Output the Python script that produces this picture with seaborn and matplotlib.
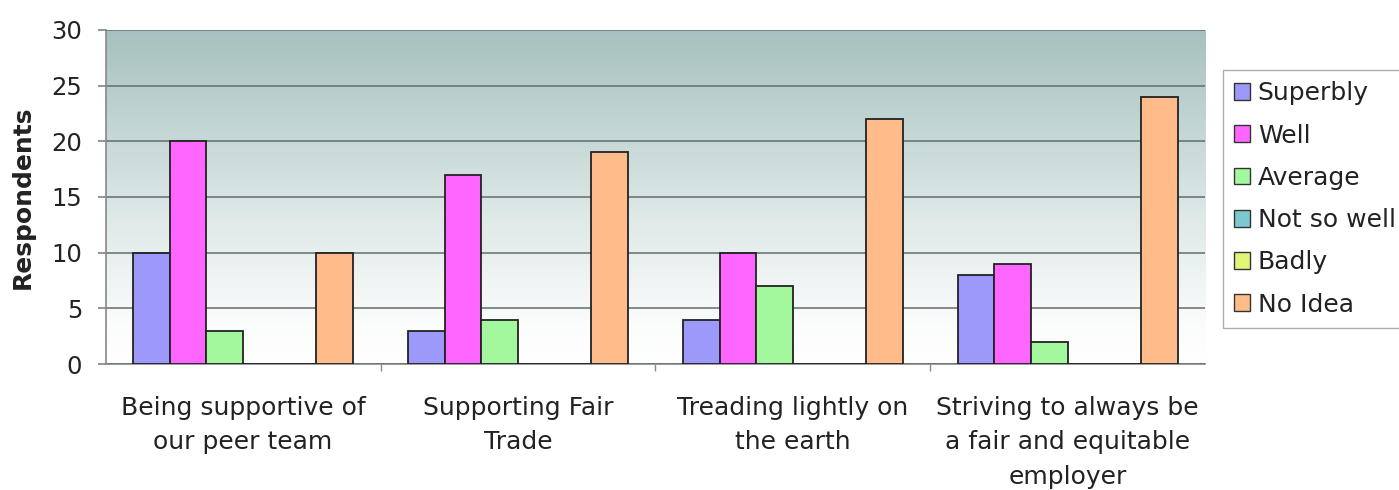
import numpy as np
import pandas as pd
import matplotlib
matplotlib.use("Agg")
import matplotlib.pyplot as plt
import seaborn as sns
from matplotlib.colors import LinearSegmentedColormap
from matplotlib.patches import Patch

categories = ["Being supportive of\nour peer team", "Supporting Fair\nTrade",
              "Treading lightly on\nthe earth", "Striving to always be\na fair and equitable\nemployer"]
series = ["Superbly", "Well", "Average", "Not so well", "Badly", "No Idea"]
superbly = [10, 3, 4, 8]
well = [20, 17, 10, 9]
average = [3, 4, 7, 2]
not_so_well = [0, 0, 0, 0]
badly = [0, 0, 0, 0]
no_idea = [10, 19, 22, 24]
colors = ["#9C99FA", "#FF66FF", "#A3F79C", "#7CC8D0", "#E2F57A", "#FFBB8A"]

values = [superbly, well, average, not_so_well, badly, no_idea]
rows = []
for s, vals in zip(series, values):
    for c, v in zip(categories, vals):
        rows.append({"Category": c, "Series": s, "Respondents": v})
df = pd.DataFrame(rows)

sns.set_theme(style="white")
plt.rcParams["font.family"] = ["DejaVu Sans"]

FS = 18

fig = plt.figure(figsize=(13.99, 4.90), dpi=100)
ax = fig.add_axes([0.0755, 0.257, 0.786, 0.682])

sns.barplot(data=df, x="Category", y="Respondents", hue="Series", order=categories,
            hue_order=series, palette=colors, saturation=1, edgecolor="#222222",
            linewidth=1.3, width=0.8, ax=ax, zorder=3, legend=False)

ax.set_ylim(0, 30)
ax.set_xlim(-0.5, 3.5)

# gradient background
cmap = LinearSegmentedColormap.from_list("bg", [(0.0, "#FFFFFF"), (0.12, "#FBFCFC"),
                                                 (0.45, "#DDE8E7"), (1.0, "#A5C1BF")])
grad = np.linspace(0, 1, 256).reshape(-1, 1)
ax.imshow(grad, extent=[0, 1, 0, 1], transform=ax.transAxes, origin="lower",
          aspect="auto", cmap=cmap, zorder=0)
ax.set_xlim(-0.5, 3.5)
ax.set_ylim(0, 30)

ax.set_yticks([0, 5, 10, 15, 20, 25, 30])
ax.yaxis.grid(True, color="#5F6F6E", linewidth=1.1, zorder=1)
ax.set_axisbelow(False)
for l in ax.get_ygridlines():
    l.set_zorder(1)
ax.tick_params(axis="y", labelsize=17.5, length=6, color="#888888", left=True, pad=11,
               labelcolor="#222222")
ax.set_xticks(range(4))
ax.set_xticklabels(categories, fontsize=FS, linespacing=1.55, color="#222222")
ax.tick_params(axis="x", length=0, pad=23)
ax.set_xticks([0.5, 1.5, 2.5], minor=True)
ax.tick_params(axis="x", which="minor", length=5, color="#888888", bottom=True)

ax.set_xlabel("")
ax.set_ylabel("Respondents", fontsize=18, fontweight="bold", labelpad=12, color="#222222")

for side in ["top", "right"]:
    ax.spines[side].set_visible(False)
for side in ["left", "bottom"]:
    ax.spines[side].set_color("#888888")
    ax.spines[side].set_linewidth(1.2)
ax.spines["left"].set_zorder(5)

handles = [Patch(facecolor=c, edgecolor="#333333", linewidth=1.0, label=s)
           for c, s in zip(colors, series)]
leg = fig.legend(handles=handles, loc="upper left", bbox_to_anchor=(0.874, 0.857),
                 fontsize=FS, frameon=True, fancybox=False, handlelength=0.65,
                 handleheight=0.65, handletextpad=0.3, labelspacing=0.73,
                 borderpad=0.45, borderaxespad=0)
for t in leg.get_texts():
    t.set_color("#222222")
leg.get_frame().set_edgecolor("#999999")
leg.get_frame().set_linewidth(1.0)

fig.savefig("out.png", dpi=100)
